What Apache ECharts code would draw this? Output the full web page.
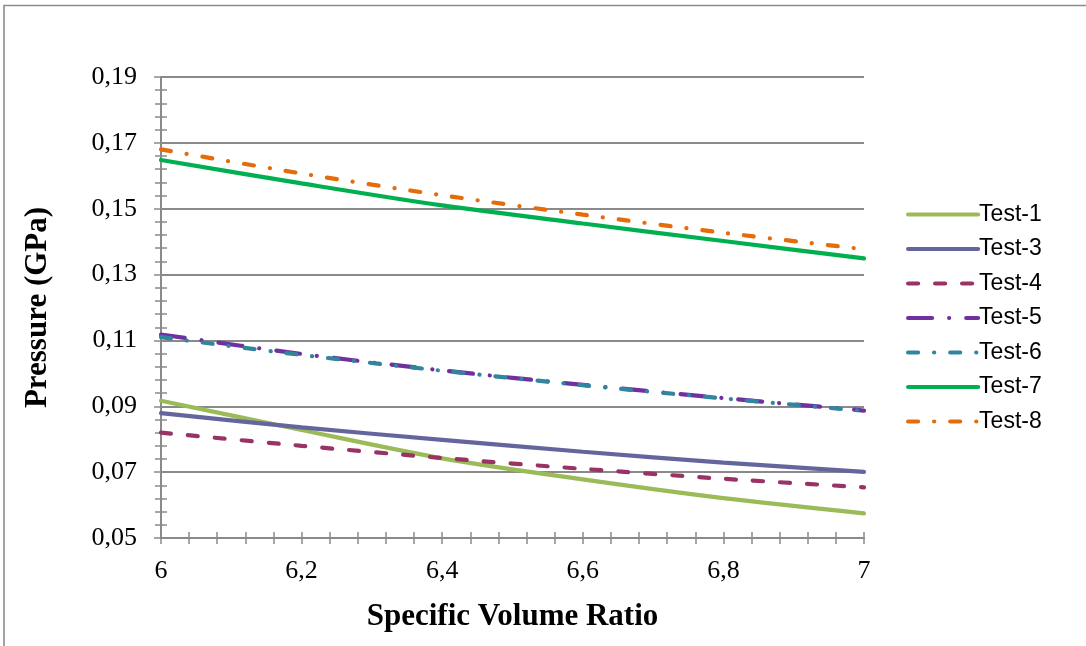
<!DOCTYPE html>
<html>
<head>
<meta charset="utf-8">
<script src="https://cdn.jsdelivr.net/npm/echarts@6/dist/echarts.min.js"></script>
<style>
  html, body { margin: 0; padding: 0; background: #ffffff; }
  #chart { width: 1086px; height: 646px; }
</style>
</head>
<body>
<div id="chart"></div>
<script>
// Specific volume ratio sample points
const volumeRatio = [6.0, 6.2, 6.4, 6.6, 6.8, 7.0];

// Pressure (GPa) for each test
const test1 = [0.0917, 0.0828, 0.0742, 0.0678, 0.0621, 0.0575];
const test3 = [0.0879, 0.0836, 0.0798, 0.0762, 0.0729, 0.0701];
const test4 = [0.0820, 0.0780, 0.0743, 0.0710, 0.0680, 0.0654];
const test5 = [0.1118, 0.1059, 0.1009, 0.0965, 0.0925, 0.0887];
const test6 = [0.1110, 0.1056, 0.1008, 0.0964, 0.0924, 0.0886];
const test7 = [0.1648, 0.1577, 0.1510, 0.1455, 0.1402, 0.1349];
const test8 = [0.1680, 0.1607, 0.1541, 0.1482, 0.1427, 0.1377];

// Axis tick labels
const xTickValues = [6, 6.2, 6.4, 6.6, 6.8, 7];
const xTickLabels = ['6', '6,2', '6,4', '6,6', '6,8', '7'];
const yTickValues = [0.05, 0.07, 0.09, 0.11, 0.13, 0.15, 0.17, 0.19];
const yTickLabels = ['0,05', '0,07', '0,09', '0,11', '0,13', '0,15', '0,17', '0,19'];

function tickLabel(values, labels) {
  return function (v) {
    for (let i = 0; i < values.length; i++) {
      if (Math.abs(values[i] - v) < 1e-9) return labels[i];
    }
    return '';
  };
}

function pairs(ys) {
  return volumeRatio.map((x, i) => [x, ys[i]]);
}

const axisColor = '#8a8a8a';
const serif = '"Liberation Serif", "Times New Roman", serif';
const lineW = 4.2;

function mkSeries(name, data, color, dash) {
  return {
    name: name,
    type: 'line',
    xAxisIndex: 0,
    yAxisIndex: 0,
    data: pairs(data),
    symbol: 'none',
    smooth: 0.3,
    lineStyle: { color: color, width: lineW, type: dash, cap: 'round' },
    itemStyle: { color: color }
  };
}

const chart = echarts.init(document.getElementById('chart'), null, { renderer: 'canvas' });

const xBase = {
  type: 'value', min: 6, max: 7, interval: 0.2, position: 'bottom',
  minorTick: { show: true, splitNumber: 5, length: 6, lineStyle: { color: axisColor, width: 1.5 } },
  axisTick: { show: true, length: 6, lineStyle: { color: axisColor, width: 1.5 } },
  splitLine: { show: false }
};
const yBase = {
  type: 'value', min: 0.05, max: 0.19, interval: 0.02, position: 'left',
  minorTick: { show: true, splitNumber: 5, length: 6, lineStyle: { color: axisColor, width: 1.5 } },
  axisTick: { show: true, length: 7, lineStyle: { color: axisColor, width: 1.5 } }
};

chart.setOption({
  animation: false,
  backgroundColor: '#ffffff',
  grid: { left: 161, right: 222, top: 77, bottom: 108, containLabel: false, outerBoundsMode: 'none' },
  graphic: [{
    type: 'rect',
    shape: { x: 4, y: 5.5, width: 1100, height: 660 },
    style: { fill: 'none', stroke: '#8c8c8c', lineWidth: 1.6 },
    silent: true, z: -1
  }],
  legend: {
    orient: 'vertical',
    left: 901, top: 198,
    itemWidth: 70, itemHeight: 20, itemGap: 11.5,
    itemStyle: { opacity: 0 },
    lineStyle: { width: lineW },
    textStyle: { fontFamily: '"Liberation Sans", Arial, sans-serif', fontSize: 23, color: '#000', padding: [0, 0, 0, -4] },
    data: ['Test-1', 'Test-3', 'Test-4', 'Test-5', 'Test-6', 'Test-7', 'Test-8']
  },
  xAxis: [
    Object.assign({}, xBase, {
      name: 'Specific Volume Ratio',
      nameLocation: 'middle',
      nameGap: 63,
      nameTextStyle: { fontFamily: serif, fontWeight: 'bold', fontSize: 31, color: '#000' },
      axisLine: { show: true, lineStyle: { color: axisColor, width: 2 } },
      axisLabel: { show: true, margin: 20, fontFamily: serif, fontSize: 26, color: '#000',
                   formatter: tickLabel(xTickValues, xTickLabels) }
    }),
    Object.assign({}, xBase, {
      axisLine: { show: false },
      axisLabel: { show: false },
      axisTick: Object.assign({}, xBase.axisTick, { inside: true })
    })
  ],
  yAxis: [
    Object.assign({}, yBase, {
      name: 'Pressure (GPa)',
      nameLocation: 'middle',
      nameGap: 108,
      nameTextStyle: { fontFamily: serif, fontWeight: 'bold', fontSize: 31, color: '#000' },
      axisLine: { show: true, lineStyle: { color: axisColor, width: 2 } },
      axisLabel: { show: true, margin: 24, fontFamily: serif, fontSize: 26, color: '#000',
                   formatter: tickLabel(yTickValues, yTickLabels) },
      splitLine: { show: true, lineStyle: { color: axisColor, width: 2 } }
    }),
    Object.assign({}, yBase, {
      axisLine: { show: false },
      axisLabel: { show: false },
      splitLine: { show: false },
      axisTick: Object.assign({}, yBase.axisTick, { inside: true, length: 6 })
    })
  ],
  series: [
    mkSeries('Test-1', test1, '#9BBB59', 'solid'),
    mkSeries('Test-3', test3, '#65659E', 'solid'),
    mkSeries('Test-4', test4, '#993366', [10, 17]),
    mkSeries('Test-5', test5, '#7030A0', [24, 17, 0.1, 17]),
    mkSeries('Test-6', test6, '#31859C', [10, 16, 0.1, 16]),
    mkSeries('Test-7', test7, '#00B050', 'solid'),
    mkSeries('Test-8', test8, '#E46C0A', [10, 16, 0.1, 16])
  ]
});
</script>
</body>
</html>
